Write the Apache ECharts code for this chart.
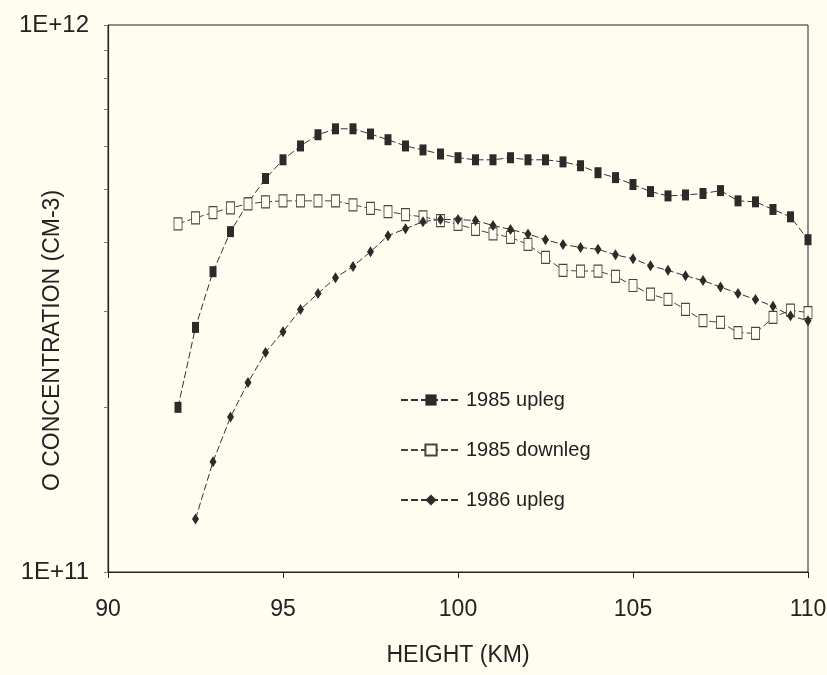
<!DOCTYPE html>
<html>
<head>
<meta charset="utf-8">
<script src="https://cdn.jsdelivr.net/npm/echarts@6/dist/echarts.min.js"></script>
<style>
  html, body { margin: 0; padding: 0; background: #fffdf0; }
  #chart { width: 827px; height: 675px; }
</style>
</head>
<body>
<div id="chart"></div>
<script>
// heights (km)
const heights1985 = [92, 92.5, 93, 93.5, 94, 94.5, 95, 95.5, 96, 96.5, 97, 97.5, 98, 98.5, 99, 99.5,
  100, 100.5, 101, 101.5, 102, 102.5, 103, 103.5, 104, 104.5, 105, 105.5, 106, 106.5, 107, 107.5,
  108, 108.5, 109, 109.5, 110];
const heights1986 = [92.5, 93, 93.5, 94, 94.5, 95, 95.5, 96, 96.5, 97, 97.5, 98, 98.5, 99, 99.5,
  100, 100.5, 101, 101.5, 102, 102.5, 103, 103.5, 104, 104.5, 105, 105.5, 106, 106.5, 107, 107.5,
  108, 108.5, 109, 109.5, 110];

// O concentration (cm-3)
const upleg1985 = [2.00e11, 2.80e11, 3.54e11, 4.19e11, 4.73e11, 5.24e11, 5.67e11, 6.01e11, 6.30e11,
  6.46e11, 6.46e11, 6.32e11, 6.17e11, 6.01e11, 5.91e11, 5.81e11, 5.72e11, 5.67e11, 5.67e11, 5.72e11,
  5.67e11, 5.67e11, 5.62e11, 5.53e11, 5.37e11, 5.26e11, 5.11e11, 4.96e11, 4.87e11, 4.89e11, 4.92e11,
  4.98e11, 4.77e11, 4.75e11, 4.60e11, 4.46e11, 4.05e11];
const downleg1985 = [4.33e11, 4.44e11, 4.54e11, 4.63e11, 4.71e11, 4.75e11, 4.77e11, 4.77e11, 4.77e11,
  4.77e11, 4.69e11, 4.62e11, 4.56e11, 4.50e11, 4.46e11, 4.39e11, 4.32e11, 4.23e11, 4.15e11, 4.09e11,
  3.97e11, 3.76e11, 3.56e11, 3.55e11, 3.55e11, 3.47e11, 3.34e11, 3.22e11, 3.15e11, 3.02e11, 2.88e11,
  2.86e11, 2.74e11, 2.73e11, 2.92e11, 3.01e11, 2.98e11];
const upleg1986 = [1.25e11, 1.59e11, 1.92e11, 2.22e11, 2.52e11, 2.75e11, 3.02e11, 3.23e11, 3.45e11,
  3.62e11, 3.85e11, 4.12e11, 4.24e11, 4.37e11, 4.41e11, 4.41e11, 4.39e11, 4.30e11, 4.23e11, 4.15e11,
  4.05e11, 3.97e11, 3.92e11, 3.89e11, 3.80e11, 3.74e11, 3.63e11, 3.56e11, 3.48e11, 3.41e11, 3.32e11,
  3.23e11, 3.15e11, 3.06e11, 2.94e11, 2.88e11];

const yTicks = [1e11, 2e11, 3e11, 4e11, 5e11, 6e11, 7e11, 8e11, 9e11, 1e12];
const yLabels = [1e11, 1e12];

const font = 'Liberation Sans, Arial, sans-serif';
const ink = '#222';
const bg = '#fffdf0';

function pairs(xs, ys) {
  return xs.map((x, i) => [x, ys[i]]);
}

const chart = echarts.init(document.getElementById('chart'));
chart.setOption({
  backgroundColor: bg,
  animation: false,
  grid: {
    left: 108, right: 19, top: 25, bottom: 103,
    outerBoundsMode: 'none',
    show: true, borderColor: ink, borderWidth: 1, backgroundColor: 'transparent'
  },
  legend: {
    orient: 'vertical',
    left: 395, top: 385,
    itemWidth: 60, itemHeight: 14, itemGap: 30,
    textStyle: { fontFamily: font, fontSize: 20, color: ink },
    data: ['1985 upleg', '1985 downleg', '1986 upleg']
  },
  xAxis: {
    type: 'value', min: 90, max: 110, interval: 5,
    name: 'HEIGHT (KM)', nameLocation: 'middle', nameGap: 72,
    nameMoveOverlap: false,
    nameTextStyle: { fontFamily: font, fontSize: 23, color: ink },
    axisLine: { lineStyle: { color: ink, width: 1 } },
    axisTick: { length: 6, lineStyle: { color: ink } },
    axisLabel: { fontFamily: font, fontSize: 23, color: ink, margin: 26 },
    splitLine: { show: false }
  },
  yAxis: {
    type: 'log', logBase: 10, min: 1e11, max: 1e12,
    name: 'O CONCENTRATION (CM-3)', nameLocation: 'middle', nameGap: 44,
    nameMoveOverlap: false,
    nameTextStyle: { fontFamily: font, fontSize: 23, color: ink, padding: [0, 84, 0, 0] },
    axisLine: { show: true, lineStyle: { color: ink, width: 1.2 } },
    axisTick: { show: true, length: 4, customValues: yTicks, lineStyle: { color: '#777' } },
    axisLabel: {
      fontFamily: font, fontSize: 24, color: ink, margin: 19,
      customValues: yLabels,
      formatter: v => '1E+' + Math.round(Math.log10(v))
    },
    splitLine: { show: false }
  },
  series: [
    {
      name: '1985 upleg', type: 'line',
      data: pairs(heights1985, upleg1985),
      symbol: 'rect', symbolSize: [7, 11],
      itemStyle: { color: '#2b2b2b' },
      lineStyle: { color: '#333', width: 1, type: [7, 3] }
    },
    {
      name: '1985 downleg', type: 'line',
      data: pairs(heights1985, downleg1985),
      symbol: 'rect', symbolSize: [8, 12],
      itemStyle: { color: bg, borderColor: '#444', borderWidth: 1 },
      lineStyle: { color: '#444', width: 1, type: [7, 3] }
    },
    {
      name: '1986 upleg', type: 'line',
      data: pairs(heights1986, upleg1986),
      symbol: 'diamond', symbolSize: [7, 11],
      itemStyle: { color: '#2b2b2b' },
      lineStyle: { color: '#333', width: 1, type: [7, 3] }
    }
  ]
});
</script>
</body>
</html>
